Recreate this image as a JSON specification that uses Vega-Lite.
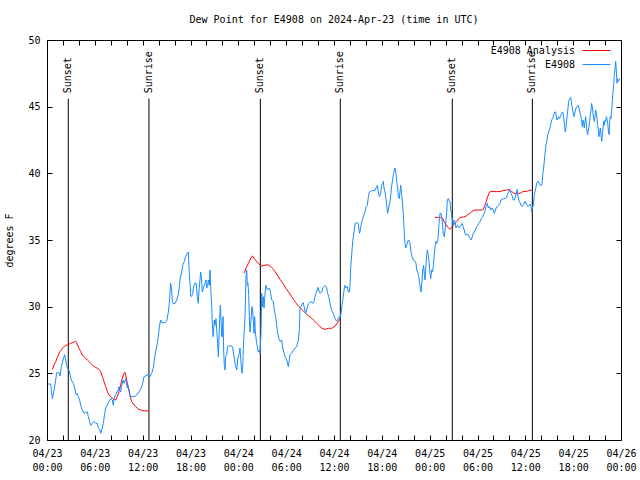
{
  "$schema": "https://vega.github.io/schema/vega-lite/v6.json",
  "width": 574,
  "height": 400,
  "autosize": {"type": "none"},
  "padding": {"left": 47, "top": 40, "right": 19, "bottom": 40},
  "background": "white",
  "title": {"text": "Dew Point for E4908 on 2024-Apr-23 (time in UTC)", "font": "DejaVu Sans Mono", "fontSize": 10, "fontWeight": "normal", "color": "black", "offset": 10, "anchor": "middle"},
  "config": {
    "view": {"stroke": "black", "strokeWidth": 1},
    "font": "DejaVu Sans Mono",
    "axis": {"zindex": 1, "domain": false, "grid": false, "ticks": true, "tickColor": "black", "tickOpacity": 1, "tickSize": 5, "tickWidth": 1, "offset": -5, "labelFont": "DejaVu Sans Mono", "labelFontSize": 10, "labelColor": "black", "titleFont": "DejaVu Sans Mono", "titleFontSize": 10, "titleFontWeight": "normal", "titleColor": "black"}
  },
  "datasets": {
    "sun": [
      {"h": 2.67, "label": "Sunset"},
      {"h": 12.79, "label": "Sunrise"},
      {"h": 26.76, "label": "Sunset"},
      {"h": 36.79, "label": "Sunrise"},
      {"h": 50.84, "label": "Sunset"},
      {"h": 60.88, "label": "Sunrise"}
    ],
    "ana": [
      {"seg": 1, "h": 0.67, "v": 25.3}, {"seg": 1, "h": 0.88, "v": 25.63}, {"seg": 1, "h": 1.09, "v": 25.88}, {"seg": 1, "h": 1.3, "v": 26.2}, {"seg": 1, "h": 1.51, "v": 26.5}, {"seg": 1, "h": 1.71, "v": 26.7}, {"seg": 1, "h": 1.92, "v": 26.88}, {"seg": 1, "h": 2.13, "v": 27.0}, {"seg": 1, "h": 2.34, "v": 27.08}, {"seg": 1, "h": 2.55, "v": 27.13}, {"seg": 1, "h": 2.76, "v": 27.18}, {"seg": 1, "h": 2.97, "v": 27.25}, {"seg": 1, "h": 3.18, "v": 27.3}, {"seg": 1, "h": 3.39, "v": 27.35}, {"seg": 1, "h": 3.6, "v": 27.4}, {"seg": 1, "h": 3.72, "v": 27.3}, {"seg": 1, "h": 3.81, "v": 27.13}, {"seg": 1, "h": 4.01, "v": 26.88}, {"seg": 1, "h": 4.22, "v": 26.63}, {"seg": 1, "h": 4.43, "v": 26.38}, {"seg": 1, "h": 4.64, "v": 26.25}, {"seg": 1, "h": 4.85, "v": 26.13}, {"seg": 1, "h": 5.06, "v": 26.0}, {"seg": 1, "h": 5.27, "v": 25.88}, {"seg": 1, "h": 5.48, "v": 25.75}, {"seg": 1, "h": 5.69, "v": 25.63}, {"seg": 1, "h": 5.9, "v": 25.5}, {"seg": 1, "h": 6.1, "v": 25.45}, {"seg": 1, "h": 6.31, "v": 25.38}, {"seg": 1, "h": 6.52, "v": 25.3}, {"seg": 1, "h": 6.73, "v": 25.13}, {"seg": 1, "h": 6.94, "v": 24.75}, {"seg": 1, "h": 7.15, "v": 24.38}, {"seg": 1, "h": 7.36, "v": 24.0}, {"seg": 1, "h": 7.57, "v": 23.63}, {"seg": 1, "h": 7.78, "v": 23.38}, {"seg": 1, "h": 7.99, "v": 23.25}, {"seg": 1, "h": 8.2, "v": 23.13}, {"seg": 1, "h": 8.4, "v": 23.05}, {"seg": 1, "h": 8.61, "v": 23.0}, {"seg": 1, "h": 8.82, "v": 23.25}, {"seg": 1, "h": 9.03, "v": 23.63}, {"seg": 1, "h": 9.24, "v": 24.13}, {"seg": 1, "h": 9.45, "v": 24.63}, {"seg": 1, "h": 9.66, "v": 25.0}, {"seg": 1, "h": 9.78, "v": 25.08}, {"seg": 1, "h": 9.87, "v": 24.88}, {"seg": 1, "h": 10.08, "v": 24.25}, {"seg": 1, "h": 10.29, "v": 23.75}, {"seg": 1, "h": 10.41, "v": 23.38}, {"seg": 1, "h": 10.5, "v": 23.13}, {"seg": 1, "h": 10.62, "v": 22.88}, {"seg": 1, "h": 10.83, "v": 22.7}, {"seg": 1, "h": 11.12, "v": 22.5}, {"seg": 1, "h": 11.33, "v": 22.38}, {"seg": 1, "h": 11.54, "v": 22.3}, {"seg": 1, "h": 11.75, "v": 22.25}, {"seg": 1, "h": 11.96, "v": 22.2}, {"seg": 1, "h": 12.38, "v": 22.18}, {"seg": 1, "h": 12.79, "v": 22.18},
      {"seg": 2, "h": 24.71, "v": 32.5}, {"seg": 2, "h": 25.05, "v": 33.0}, {"seg": 2, "h": 25.26, "v": 33.25}, {"seg": 2, "h": 25.46, "v": 33.5}, {"seg": 2, "h": 25.67, "v": 33.75}, {"seg": 2, "h": 25.8, "v": 33.8}, {"seg": 2, "h": 25.97, "v": 33.63}, {"seg": 2, "h": 26.22, "v": 33.45}, {"seg": 2, "h": 26.51, "v": 33.25}, {"seg": 2, "h": 26.72, "v": 33.13}, {"seg": 2, "h": 26.93, "v": 33.05}, {"seg": 2, "h": 27.22, "v": 33.08}, {"seg": 2, "h": 27.47, "v": 33.13}, {"seg": 2, "h": 27.76, "v": 33.13}, {"seg": 2, "h": 27.97, "v": 33.05}, {"seg": 2, "h": 28.18, "v": 32.95}, {"seg": 2, "h": 28.39, "v": 32.8}, {"seg": 2, "h": 28.6, "v": 32.63}, {"seg": 2, "h": 28.81, "v": 32.45}, {"seg": 2, "h": 29.02, "v": 32.25}, {"seg": 2, "h": 29.23, "v": 32.05}, {"seg": 2, "h": 29.44, "v": 31.88}, {"seg": 2, "h": 29.65, "v": 31.7}, {"seg": 2, "h": 29.85, "v": 31.5}, {"seg": 2, "h": 30.06, "v": 31.3}, {"seg": 2, "h": 30.27, "v": 31.13}, {"seg": 2, "h": 30.48, "v": 30.95}, {"seg": 2, "h": 30.69, "v": 30.75}, {"seg": 2, "h": 30.9, "v": 30.55}, {"seg": 2, "h": 31.11, "v": 30.38}, {"seg": 2, "h": 31.32, "v": 30.2}, {"seg": 2, "h": 31.53, "v": 30.05}, {"seg": 2, "h": 31.74, "v": 29.93}, {"seg": 2, "h": 31.95, "v": 29.8}, {"seg": 2, "h": 32.15, "v": 29.68}, {"seg": 2, "h": 32.36, "v": 29.55}, {"seg": 2, "h": 32.57, "v": 29.43}, {"seg": 2, "h": 32.78, "v": 29.33}, {"seg": 2, "h": 32.99, "v": 29.25}, {"seg": 2, "h": 33.2, "v": 29.13}, {"seg": 2, "h": 33.41, "v": 29.0}, {"seg": 2, "h": 33.62, "v": 28.88}, {"seg": 2, "h": 33.83, "v": 28.75}, {"seg": 2, "h": 34.04, "v": 28.63}, {"seg": 2, "h": 34.25, "v": 28.5}, {"seg": 2, "h": 34.45, "v": 28.4}, {"seg": 2, "h": 34.66, "v": 28.33}, {"seg": 2, "h": 34.87, "v": 28.3}, {"seg": 2, "h": 35.08, "v": 28.33}, {"seg": 2, "h": 35.29, "v": 28.38}, {"seg": 2, "h": 35.71, "v": 28.38}, {"seg": 2, "h": 35.92, "v": 28.45}, {"seg": 2, "h": 36.13, "v": 28.55}, {"seg": 2, "h": 36.34, "v": 28.7}, {"seg": 2, "h": 36.54, "v": 28.88}, {"seg": 2, "h": 36.75, "v": 29.13},
      {"seg": 3, "h": 48.67, "v": 36.7}, {"seg": 3, "h": 49.09, "v": 36.7}, {"seg": 3, "h": 49.38, "v": 36.68}, {"seg": 3, "h": 49.63, "v": 36.63}, {"seg": 3, "h": 49.8, "v": 36.38}, {"seg": 3, "h": 50.05, "v": 36.13}, {"seg": 3, "h": 50.34, "v": 35.93}, {"seg": 3, "h": 50.55, "v": 35.8}, {"seg": 3, "h": 50.76, "v": 35.95}, {"seg": 3, "h": 50.97, "v": 36.13}, {"seg": 3, "h": 51.18, "v": 36.25}, {"seg": 3, "h": 51.39, "v": 36.38}, {"seg": 3, "h": 51.59, "v": 36.55}, {"seg": 3, "h": 51.8, "v": 36.68}, {"seg": 3, "h": 52.22, "v": 36.73}, {"seg": 3, "h": 52.43, "v": 36.75}, {"seg": 3, "h": 52.64, "v": 36.83}, {"seg": 3, "h": 52.85, "v": 36.93}, {"seg": 3, "h": 53.06, "v": 37.0}, {"seg": 3, "h": 53.27, "v": 37.13}, {"seg": 3, "h": 53.48, "v": 37.2}, {"seg": 3, "h": 53.68, "v": 37.25}, {"seg": 3, "h": 54.1, "v": 37.25}, {"seg": 3, "h": 54.52, "v": 37.25}, {"seg": 3, "h": 54.73, "v": 37.3}, {"seg": 3, "h": 54.86, "v": 37.5}, {"seg": 3, "h": 55.02, "v": 37.75}, {"seg": 3, "h": 55.15, "v": 38.0}, {"seg": 3, "h": 55.27, "v": 38.25}, {"seg": 3, "h": 55.44, "v": 38.5}, {"seg": 3, "h": 55.57, "v": 38.63}, {"seg": 3, "h": 56.4, "v": 38.63}, {"seg": 3, "h": 56.82, "v": 38.63}, {"seg": 3, "h": 57.03, "v": 38.68}, {"seg": 3, "h": 57.24, "v": 38.7}, {"seg": 3, "h": 57.45, "v": 38.73}, {"seg": 3, "h": 57.66, "v": 38.75}, {"seg": 3, "h": 57.87, "v": 38.78}, {"seg": 3, "h": 58.08, "v": 38.75}, {"seg": 3, "h": 58.28, "v": 38.63}, {"seg": 3, "h": 58.49, "v": 38.55}, {"seg": 3, "h": 58.83, "v": 38.45}, {"seg": 3, "h": 59.12, "v": 38.5}, {"seg": 3, "h": 59.33, "v": 38.5}, {"seg": 3, "h": 59.54, "v": 38.58}, {"seg": 3, "h": 59.75, "v": 38.63}, {"seg": 3, "h": 60.17, "v": 38.65}, {"seg": 3, "h": 60.38, "v": 38.7}, {"seg": 3, "h": 60.58, "v": 38.73}, {"seg": 3, "h": 60.79, "v": 38.75}
    ],
    "obs": [
      {"h": 0.13, "v": 24.2}, {"h": 0.46, "v": 24.2}, {"h": 0.67, "v": 23.1}, {"h": 0.88, "v": 23.75}, {"h": 1.09, "v": 24.5}, {"h": 1.21, "v": 25.05}, {"h": 1.51, "v": 25.05}, {"h": 1.63, "v": 24.8}, {"h": 1.8, "v": 25.5}, {"h": 2.01, "v": 26.0}, {"h": 2.22, "v": 26.4}, {"h": 2.34, "v": 26.0}, {"h": 2.55, "v": 25.4}, {"h": 2.76, "v": 25.25}, {"h": 2.89, "v": 24.9}, {"h": 3.05, "v": 24.5}, {"h": 3.3, "v": 24.25}, {"h": 3.47, "v": 23.9}, {"h": 3.64, "v": 23.4}, {"h": 3.8, "v": 23.5}, {"h": 3.93, "v": 23.25}, {"h": 4.1, "v": 23.0}, {"h": 4.22, "v": 22.6}, {"h": 4.43, "v": 22.25}, {"h": 4.64, "v": 22.0}, {"h": 4.85, "v": 22.1}, {"h": 5.06, "v": 22.1}, {"h": 5.18, "v": 21.75}, {"h": 5.48, "v": 21.1}, {"h": 5.69, "v": 21.25}, {"h": 5.9, "v": 21.4}, {"h": 6.11, "v": 21.25}, {"h": 6.31, "v": 21.25}, {"h": 6.44, "v": 20.9}, {"h": 6.65, "v": 20.75}, {"h": 6.74, "v": 20.5}, {"h": 6.94, "v": 20.9}, {"h": 7.06, "v": 21.25}, {"h": 7.24, "v": 22.0}, {"h": 7.36, "v": 22.4}, {"h": 7.56, "v": 22.6}, {"h": 7.78, "v": 22.9}, {"h": 7.99, "v": 23.1}, {"h": 8.19, "v": 23.0}, {"h": 8.32, "v": 22.6}, {"h": 8.4, "v": 23.1}, {"h": 8.62, "v": 23.4}, {"h": 8.91, "v": 23.75}, {"h": 9.03, "v": 24.0}, {"h": 9.24, "v": 23.6}, {"h": 9.37, "v": 24.1}, {"h": 9.57, "v": 24.5}, {"h": 9.66, "v": 24.25}, {"h": 9.87, "v": 24.6}, {"h": 10.07, "v": 23.9}, {"h": 10.16, "v": 24.1}, {"h": 10.41, "v": 23.25}, {"h": 10.91, "v": 23.25}, {"h": 11.12, "v": 23.3}, {"h": 11.54, "v": 23.6}, {"h": 11.83, "v": 23.9}, {"h": 12.0, "v": 24.25}, {"h": 12.17, "v": 24.75}, {"h": 12.67, "v": 24.9},
      {"h": 12.92, "v": 24.75}, {"h": 13.13, "v": 25.0}, {"h": 13.33, "v": 25.4}, {"h": 13.55, "v": 26.4}, {"h": 13.76, "v": 27.0}, {"h": 13.97, "v": 27.75}, {"h": 14.09, "v": 28.5}, {"h": 14.26, "v": 29.0}, {"h": 14.38, "v": 28.8}, {"h": 14.8, "v": 28.8}, {"h": 15.01, "v": 28.9}, {"h": 15.22, "v": 29.6}, {"h": 15.34, "v": 30.25}, {"h": 15.43, "v": 31.0}, {"h": 15.51, "v": 31.75}, {"h": 15.64, "v": 31.25}, {"h": 15.72, "v": 30.4}, {"h": 15.85, "v": 30.2}, {"h": 16.06, "v": 30.25}, {"h": 16.27, "v": 30.5}, {"h": 16.47, "v": 30.9}, {"h": 16.6, "v": 31.5}, {"h": 16.68, "v": 32.0}, {"h": 16.89, "v": 32.6}, {"h": 17.02, "v": 33.1}, {"h": 17.22, "v": 33.4}, {"h": 17.39, "v": 33.75}, {"h": 17.56, "v": 33.95}, {"h": 17.73, "v": 34.1}, {"h": 17.85, "v": 32.5}, {"h": 17.94, "v": 31.75}, {"h": 18.02, "v": 30.8}, {"h": 18.15, "v": 30.75}, {"h": 18.27, "v": 31.0}, {"h": 18.44, "v": 31.6}, {"h": 18.56, "v": 31.75}, {"h": 18.69, "v": 31.8}, {"h": 18.78, "v": 31.25}, {"h": 18.85, "v": 30.75}, {"h": 18.98, "v": 30.25}, {"h": 19.07, "v": 31.25}, {"h": 19.19, "v": 32.0}, {"h": 19.28, "v": 32.6}, {"h": 19.4, "v": 32.0}, {"h": 19.48, "v": 31.1}, {"h": 19.61, "v": 31.4}, {"h": 19.82, "v": 31.75}, {"h": 19.94, "v": 32.0}, {"h": 20.03, "v": 31.4}, {"h": 20.15, "v": 31.6}, {"h": 20.23, "v": 32.0}, {"h": 20.36, "v": 31.6}, {"h": 20.45, "v": 32.75}, {"h": 20.53, "v": 31.5}, {"h": 20.66, "v": 30.0}, {"h": 20.74, "v": 28.75}, {"h": 20.82, "v": 27.75}, {"h": 20.91, "v": 28.25}, {"h": 20.99, "v": 29.0}, {"h": 21.07, "v": 28.6}, {"h": 21.2, "v": 29.1}, {"h": 21.29, "v": 28.25}, {"h": 21.41, "v": 27.25}, {"h": 21.49, "v": 26.25}, {"h": 21.61, "v": 28.25}, {"h": 21.74, "v": 30.1}, {"h": 21.83, "v": 29.0}, {"h": 21.91, "v": 27.75}, {"h": 21.99, "v": 27.75}, {"h": 22.08, "v": 29.25}, {"h": 22.16, "v": 26.75}, {"h": 22.24, "v": 25.6}, {"h": 22.33, "v": 25.25}, {"h": 22.41, "v": 26.25}, {"h": 22.54, "v": 26.4}, {"h": 22.66, "v": 27.0}, {"h": 22.74, "v": 27.05}, {"h": 23.17, "v": 27.05}, {"h": 23.29, "v": 26.9}, {"h": 23.42, "v": 26.4}, {"h": 23.58, "v": 25.75}, {"h": 23.8, "v": 25.25}, {"h": 23.92, "v": 26.0}, {"h": 24.08, "v": 26.4}, {"h": 24.21, "v": 26.9}, {"h": 24.34, "v": 25.75}, {"h": 24.46, "v": 25.0}, {"h": 24.55, "v": 25.5}, {"h": 24.67, "v": 27.5}, {"h": 24.84, "v": 29.25}, {"h": 24.96, "v": 32.25}, {"h": 25.05, "v": 32.75},
      {"h": 25.13, "v": 31.6}, {"h": 25.21, "v": 31.75}, {"h": 25.3, "v": 30.9}, {"h": 25.38, "v": 29.25}, {"h": 25.46, "v": 28.1}, {"h": 25.59, "v": 29.0}, {"h": 25.71, "v": 30.0}, {"h": 25.8, "v": 29.75}, {"h": 25.88, "v": 28.9}, {"h": 25.97, "v": 28.0}, {"h": 26.05, "v": 29.25}, {"h": 26.13, "v": 28.1}, {"h": 26.3, "v": 27.25}, {"h": 26.51, "v": 26.6}, {"h": 26.63, "v": 26.75}, {"h": 26.72, "v": 26.5}, {"h": 26.84, "v": 28.0}, {"h": 26.93, "v": 31.0}, {"h": 27.01, "v": 30.0}, {"h": 27.14, "v": 30.75}, {"h": 27.22, "v": 29.9}, {"h": 27.35, "v": 31.0}, {"h": 27.47, "v": 31.6}, {"h": 27.55, "v": 31.4}, {"h": 27.68, "v": 31.25}, {"h": 27.81, "v": 31.4}, {"h": 27.97, "v": 31.3}, {"h": 28.05, "v": 31.0}, {"h": 28.18, "v": 30.5}, {"h": 28.39, "v": 30.4}, {"h": 28.51, "v": 29.75}, {"h": 28.68, "v": 29.25}, {"h": 28.81, "v": 28.6}, {"h": 28.94, "v": 28.0}, {"h": 29.1, "v": 27.6}, {"h": 29.23, "v": 27.4}, {"h": 29.44, "v": 27.5}, {"h": 29.56, "v": 26.9}, {"h": 29.64, "v": 26.75}, {"h": 29.85, "v": 26.25}, {"h": 30.07, "v": 26.0}, {"h": 30.27, "v": 25.5}, {"h": 30.39, "v": 26.0}, {"h": 30.48, "v": 26.4}, {"h": 30.69, "v": 26.5}, {"h": 30.9, "v": 26.75}, {"h": 31.11, "v": 26.9}, {"h": 31.32, "v": 27.0}, {"h": 31.52, "v": 27.5}, {"h": 31.65, "v": 28.25}, {"h": 31.74, "v": 29.9}, {"h": 31.86, "v": 30.0}, {"h": 32.03, "v": 30.25}, {"h": 32.15, "v": 30.3}, {"h": 32.28, "v": 29.9}, {"h": 32.45, "v": 29.5}, {"h": 32.57, "v": 29.75}, {"h": 32.7, "v": 30.1}, {"h": 32.87, "v": 30.25}, {"h": 33.12, "v": 30.4}, {"h": 33.33, "v": 30.25}, {"h": 33.49, "v": 30.4}, {"h": 33.62, "v": 30.75}, {"h": 33.74, "v": 31.0}, {"h": 33.91, "v": 31.25}, {"h": 34.0, "v": 31.45}, {"h": 34.08, "v": 31.25}, {"h": 34.25, "v": 31.0}, {"h": 34.46, "v": 31.1}, {"h": 34.58, "v": 31.4}, {"h": 34.75, "v": 31.5}, {"h": 34.87, "v": 31.6}, {"h": 35.0, "v": 31.5}, {"h": 35.08, "v": 31.4}, {"h": 35.21, "v": 31.0}, {"h": 35.34, "v": 30.75}, {"h": 35.5, "v": 30.25}, {"h": 35.63, "v": 29.9}, {"h": 35.79, "v": 29.6}, {"h": 35.92, "v": 29.5}, {"h": 36.13, "v": 29.1}, {"h": 36.34, "v": 28.9}, {"h": 36.42, "v": 29.0}, {"h": 36.54, "v": 29.1}, {"h": 36.67, "v": 29.25}, {"h": 36.75, "v": 29.1}, {"h": 36.88, "v": 29.5}, {"h": 36.97, "v": 30.0}, {"h": 37.17, "v": 30.75},
      {"h": 37.26, "v": 31.25}, {"h": 37.38, "v": 31.6}, {"h": 37.51, "v": 31.4}, {"h": 37.68, "v": 31.5}, {"h": 37.8, "v": 31.1}, {"h": 37.93, "v": 31.1}, {"h": 38.01, "v": 31.6}, {"h": 38.09, "v": 32.9}, {"h": 38.22, "v": 33.9}, {"h": 38.35, "v": 34.9}, {"h": 38.51, "v": 35.6}, {"h": 38.64, "v": 36.25}, {"h": 38.85, "v": 36.3}, {"h": 39.05, "v": 36.25}, {"h": 39.18, "v": 35.5}, {"h": 39.26, "v": 35.6}, {"h": 39.39, "v": 36.1}, {"h": 39.55, "v": 36.5}, {"h": 39.68, "v": 36.75}, {"h": 39.89, "v": 37.1}, {"h": 40.02, "v": 37.5}, {"h": 40.18, "v": 37.6}, {"h": 40.31, "v": 38.25}, {"h": 40.43, "v": 38.6}, {"h": 40.73, "v": 38.7}, {"h": 41.14, "v": 38.7}, {"h": 41.27, "v": 38.9}, {"h": 41.44, "v": 39.1}, {"h": 41.56, "v": 38.6}, {"h": 41.69, "v": 38.25}, {"h": 41.86, "v": 38.5}, {"h": 41.98, "v": 39.1}, {"h": 42.11, "v": 39.25}, {"h": 42.19, "v": 39.4}, {"h": 42.27, "v": 38.9}, {"h": 42.4, "v": 38.6}, {"h": 42.52, "v": 38.1}, {"h": 42.61, "v": 37.6}, {"h": 42.73, "v": 37.0}, {"h": 42.86, "v": 37.4}, {"h": 43.03, "v": 37.9}, {"h": 43.15, "v": 38.6}, {"h": 43.24, "v": 39.1}, {"h": 43.36, "v": 39.5}, {"h": 43.44, "v": 39.9}, {"h": 43.57, "v": 40.25}, {"h": 43.65, "v": 40.4}, {"h": 43.78, "v": 40.0}, {"h": 43.86, "v": 39.4}, {"h": 43.99, "v": 38.9}, {"h": 44.07, "v": 38.25}, {"h": 44.19, "v": 38.1}, {"h": 44.28, "v": 38.6}, {"h": 44.37, "v": 39.1}, {"h": 44.49, "v": 38.4}, {"h": 44.57, "v": 37.9}, {"h": 44.7, "v": 36.9}, {"h": 44.78, "v": 36.0}, {"h": 44.87, "v": 34.9}, {"h": 44.99, "v": 34.4}, {"h": 45.12, "v": 34.6}, {"h": 45.24, "v": 34.9}, {"h": 45.37, "v": 35.0}, {"h": 45.53, "v": 34.75}, {"h": 45.66, "v": 34.1}, {"h": 45.79, "v": 33.75}, {"h": 45.95, "v": 33.5}, {"h": 46.16, "v": 33.4}, {"h": 46.29, "v": 33.25}, {"h": 46.37, "v": 32.75}, {"h": 46.5, "v": 32.6}, {"h": 46.62, "v": 32.25}, {"h": 46.7, "v": 31.9}, {"h": 46.79, "v": 31.6}, {"h": 46.91, "v": 31.1}, {"h": 47.04, "v": 31.9}, {"h": 47.12, "v": 32.75}, {"h": 47.25, "v": 33.1}, {"h": 47.33, "v": 32.4}, {"h": 47.42, "v": 32.0}, {"h": 47.54, "v": 33.1}, {"h": 47.63, "v": 33.9}, {"h": 47.71, "v": 34.25}, {"h": 47.83, "v": 33.9}, {"h": 47.92, "v": 33.4}, {"h": 48.04, "v": 32.5}, {"h": 48.13, "v": 32.1}, {"h": 48.25, "v": 32.75}, {"h": 48.38, "v": 32.6}, {"h": 48.46, "v": 33.1}, {"h": 48.58, "v": 33.9}, {"h": 48.67, "v": 34.5}, {"h": 48.8, "v": 34.9}, {"h": 48.88, "v": 34.75}, {"h": 49.01, "v": 34.9}, {"h": 49.09, "v": 35.4}, {"h": 49.17, "v": 36.25}, {"h": 49.3, "v": 37.0}, {"h": 49.42, "v": 37.0}, {"h": 49.55, "v": 36.6}, {"h": 49.63, "v": 36.0}, {"h": 49.71, "v": 35.4}, {"h": 49.84, "v": 35.25}, {"h": 49.96, "v": 35.9}, {"h": 50.05, "v": 36.5}, {"h": 50.14, "v": 37.1}, {"h": 50.21, "v": 38.0}, {"h": 50.34, "v": 38.1}, {"h": 50.47, "v": 37.9}, {"h": 50.55, "v": 37.9},
      {"h": 50.64, "v": 37.25}, {"h": 50.72, "v": 37.1}, {"h": 50.8, "v": 36.6}, {"h": 50.89, "v": 36.4}, {"h": 50.97, "v": 36.1}, {"h": 51.05, "v": 36.5}, {"h": 51.18, "v": 36.4}, {"h": 51.31, "v": 35.9}, {"h": 51.39, "v": 36.0}, {"h": 51.47, "v": 36.1}, {"h": 51.6, "v": 36.0}, {"h": 51.72, "v": 35.9}, {"h": 51.81, "v": 36.0}, {"h": 51.93, "v": 36.1}, {"h": 52.06, "v": 36.25}, {"h": 52.14, "v": 36.1}, {"h": 52.22, "v": 35.9}, {"h": 52.35, "v": 35.75}, {"h": 52.47, "v": 35.4}, {"h": 52.85, "v": 35.4}, {"h": 52.98, "v": 35.25}, {"h": 53.1, "v": 35.1}, {"h": 53.23, "v": 35.0}, {"h": 53.35, "v": 35.25}, {"h": 53.48, "v": 35.5}, {"h": 53.6, "v": 35.6}, {"h": 53.73, "v": 35.75}, {"h": 53.9, "v": 36.0}, {"h": 54.03, "v": 36.1}, {"h": 54.15, "v": 36.25}, {"h": 54.32, "v": 36.4}, {"h": 54.48, "v": 36.6}, {"h": 54.65, "v": 36.75}, {"h": 54.82, "v": 37.0}, {"h": 54.98, "v": 37.25}, {"h": 55.07, "v": 37.5}, {"h": 55.16, "v": 37.6}, {"h": 55.23, "v": 37.75}, {"h": 55.36, "v": 37.4}, {"h": 55.48, "v": 37.5}, {"h": 55.57, "v": 37.4}, {"h": 55.7, "v": 37.25}, {"h": 55.82, "v": 37.4}, {"h": 55.98, "v": 37.25}, {"h": 56.11, "v": 37.0}, {"h": 56.24, "v": 37.25}, {"h": 56.41, "v": 37.5}, {"h": 56.53, "v": 37.5}, {"h": 56.66, "v": 37.6}, {"h": 56.82, "v": 37.75}, {"h": 56.95, "v": 38.0}, {"h": 57.24, "v": 38.1}, {"h": 57.45, "v": 38.1}, {"h": 57.66, "v": 38.2}, {"h": 57.79, "v": 38.5}, {"h": 57.92, "v": 38.6}, {"h": 57.99, "v": 38.8}, {"h": 58.12, "v": 38.6}, {"h": 58.24, "v": 38.5}, {"h": 58.37, "v": 38.25}, {"h": 58.49, "v": 38.0}, {"h": 58.62, "v": 38.0}, {"h": 58.74, "v": 38.2}, {"h": 58.87, "v": 38.5}, {"h": 58.96, "v": 38.8}, {"h": 59.04, "v": 38.4}, {"h": 59.17, "v": 38.0}, {"h": 59.33, "v": 37.8}, {"h": 59.46, "v": 37.6}, {"h": 59.58, "v": 37.5}, {"h": 59.75, "v": 37.6}, {"h": 59.88, "v": 37.75}, {"h": 59.96, "v": 37.9}, {"h": 60.09, "v": 37.75}, {"h": 60.21, "v": 37.6}, {"h": 60.34, "v": 37.5}, {"h": 60.46, "v": 37.6}, {"h": 60.59, "v": 37.7}, {"h": 60.71, "v": 37.5}, {"h": 60.8, "v": 37.1}, {"h": 60.88, "v": 37.4}, {"h": 61.0, "v": 37.6},
      {"h": 61.13, "v": 38.4}, {"h": 61.21, "v": 38.6}, {"h": 61.34, "v": 39.0}, {"h": 61.42, "v": 39.25}, {"h": 61.55, "v": 39.4}, {"h": 61.63, "v": 39.4}, {"h": 61.76, "v": 39.2}, {"h": 61.88, "v": 39.1}, {"h": 62.05, "v": 39.1}, {"h": 62.13, "v": 39.4}, {"h": 62.18, "v": 39.9}, {"h": 62.26, "v": 40.25}, {"h": 62.38, "v": 40.9}, {"h": 62.47, "v": 41.5}, {"h": 62.59, "v": 42.1}, {"h": 62.72, "v": 42.5}, {"h": 62.8, "v": 42.9}, {"h": 62.89, "v": 43.0}, {"h": 63.01, "v": 43.25}, {"h": 63.14, "v": 43.5}, {"h": 63.22, "v": 43.75}, {"h": 63.3, "v": 44.0}, {"h": 63.43, "v": 44.1}, {"h": 63.56, "v": 44.4}, {"h": 63.68, "v": 44.6}, {"h": 63.81, "v": 44.6}, {"h": 63.89, "v": 44.25}, {"h": 63.97, "v": 44.0}, {"h": 64.06, "v": 44.1}, {"h": 64.14, "v": 44.25}, {"h": 64.27, "v": 44.1}, {"h": 64.39, "v": 44.25}, {"h": 64.56, "v": 44.5}, {"h": 64.68, "v": 44.6}, {"h": 64.77, "v": 44.4}, {"h": 64.85, "v": 44.0}, {"h": 64.93, "v": 43.5}, {"h": 65.02, "v": 43.1}, {"h": 65.1, "v": 43.5}, {"h": 65.19, "v": 44.0}, {"h": 65.27, "v": 44.4}, {"h": 65.35, "v": 44.9}, {"h": 65.44, "v": 45.4}, {"h": 65.56, "v": 45.6}, {"h": 65.69, "v": 45.7}, {"h": 65.77, "v": 45.4}, {"h": 65.85, "v": 45.0}, {"h": 65.94, "v": 44.75}, {"h": 66.02, "v": 44.5}, {"h": 66.11, "v": 44.25}, {"h": 66.23, "v": 44.6}, {"h": 66.36, "v": 44.9}, {"h": 66.48, "v": 45.0}, {"h": 66.61, "v": 45.1}, {"h": 66.73, "v": 44.9}, {"h": 66.86, "v": 44.5}, {"h": 66.98, "v": 44.25}, {"h": 67.07, "v": 43.9}, {"h": 67.15, "v": 43.5}, {"h": 67.23, "v": 44.0}, {"h": 67.32, "v": 43.75}, {"h": 67.4, "v": 43.4}, {"h": 67.49, "v": 43.9}, {"h": 67.57, "v": 44.25}, {"h": 67.65, "v": 43.75}, {"h": 67.74, "v": 43.1}, {"h": 67.82, "v": 42.9}, {"h": 67.9, "v": 43.25}, {"h": 67.99, "v": 43.5}, {"h": 68.07, "v": 43.9}, {"h": 68.15, "v": 44.4}, {"h": 68.24, "v": 44.75}, {"h": 68.32, "v": 45.25}, {"h": 68.41, "v": 44.9}, {"h": 68.49, "v": 44.5}, {"h": 68.57, "v": 44.1}, {"h": 68.66, "v": 43.9}, {"h": 68.74, "v": 44.25}, {"h": 68.82, "v": 44.75}, {"h": 68.91, "v": 44.5}, {"h": 68.99, "v": 44.1}, {"h": 69.07, "v": 43.6}, {"h": 69.16, "v": 43.25}, {"h": 69.24, "v": 42.75}, {"h": 69.32, "v": 43.0}, {"h": 69.41, "v": 43.4}, {"h": 69.49, "v": 42.9}, {"h": 69.58, "v": 42.4}, {"h": 69.66, "v": 42.9}, {"h": 69.74, "v": 43.4}, {"h": 69.83, "v": 43.9}, {"h": 69.91, "v": 43.6}, {"h": 69.99, "v": 44.0}, {"h": 70.08, "v": 43.9}, {"h": 70.16, "v": 44.25}, {"h": 70.24, "v": 44.1}, {"h": 70.33, "v": 43.75}, {"h": 70.41, "v": 43.25}, {"h": 70.5, "v": 42.9}, {"h": 70.58, "v": 43.9}, {"h": 70.66, "v": 44.25}, {"h": 70.75, "v": 44.1}, {"h": 70.83, "v": 44.75}, {"h": 70.91, "v": 45.4}, {"h": 71.0, "v": 46.1}, {"h": 71.08, "v": 46.6}, {"h": 71.16, "v": 47.4}, {"h": 71.25, "v": 47.9}, {"h": 71.33, "v": 48.4}, {"h": 71.42, "v": 47.6}, {"h": 71.5, "v": 46.75}, {"h": 71.58, "v": 47.1}, {"h": 71.67, "v": 46.9}, {"h": 71.75, "v": 47.0}, {"h": 71.88, "v": 47.1}
    ]
  },
  "resolve": {"axis": {"x": "independent", "y": "independent"}},
  "layer": [
    {
      "data": {"name": "sun"},
      "mark": {"type": "rule", "color": "black", "strokeWidth": 1},
      "encoding": {
        "x": {"field": "h", "type": "quantitative", "scale": {"domain": [0, 72], "nice": false, "zero": false},
              "axis": {"orient": "bottom", "title": null, "values": [0,2,4,6,8,10,12,14,16,18,20,22,24,26,28,30,32,34,36,38,40,42,44,46,48,50,52,54,56,58,60,62,64,66,68,70,72],
                       "labelExpr": "datum.value % 6 == 0 ? ['04/' + (23 + floor(datum.value / 24)), (datum.value % 24 < 10 ? '0' : '') + (datum.value % 24) + ':00'] : ''",
                       "labelPadding": 8, "labelLineHeight": 14, "labelOverlap": false, "labelFlush": false, "labelBound": false}},
        "y": {"datum": 20, "type": "quantitative", "scale": {"domain": [20, 50], "nice": false, "zero": false},
              "axis": {"orient": "left", "title": "degrees F", "values": [20, 25, 30, 35, 40, 45, 50], "labelPadding": 7, "titlePadding": 13}},
        "y2": {"datum": 45.6}
      }
    },
    {
      "data": {"name": "sun"},
      "mark": {"type": "text", "angle": 270, "align": "left", "baseline": "middle", "font": "DejaVu Sans Mono", "fontSize": 10, "color": "black"},
      "encoding": {
        "x": {"field": "h", "type": "quantitative", "axis": {"orient": "top", "title": null, "labels": false, "values": [0,2,4,6,8,10,12,14,16,18,20,22,24,26,28,30,32,34,36,38,40,42,44,46,48,50,52,54,56,58,60,62,64,66,68,70,72]}},
        "y": {"datum": 46.0, "type": "quantitative", "axis": {"orient": "right", "title": null, "labels": false, "values": [20, 25, 30, 35, 40, 45, 50]}},
        "text": {"field": "label"}
      }
    },
    {
      "data": {"name": "ana"},
      "mark": {"type": "line", "strokeWidth": 1},
      "encoding": {
        "x": {"field": "h", "type": "quantitative", "axis": null},
        "y": {"field": "v", "type": "quantitative", "axis": null},
        "detail": {"field": "seg"},
        "color": {"datum": "E4908 Analysis", "type": "nominal",
                  "scale": {"domain": ["E4908 Analysis", "E4908"], "range": ["#ff0000", "#1a8cff"]},
                  "legend": {"title": null, "orient": "none", "legendX": 544, "legendY": 5, "symbolType": "M-2.8,0H2.8", "symbolSize": 100, "symbolStrokeWidth": 1, "symbolFillColor": "transparent", "labelAlign": "right", "labelOffset": -27, "labelFont": "DejaVu Sans Mono", "labelFontSize": 10, "labelColor": "black", "rowPadding": 3, "padding": 0}}
      }
    },
    {
      "data": {"name": "obs"},
      "mark": {"type": "line", "strokeWidth": 1},
      "encoding": {
        "x": {"field": "h", "type": "quantitative", "axis": null},
        "y": {"field": "v", "type": "quantitative", "axis": null},
        "color": {"datum": "E4908", "type": "nominal"}
      }
    }
  ]
}
